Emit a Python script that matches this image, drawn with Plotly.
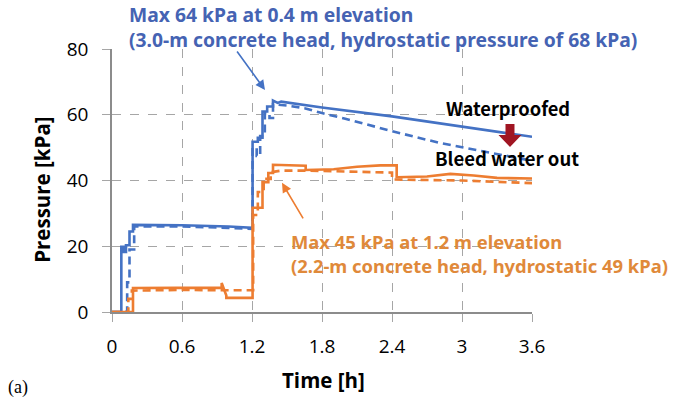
import plotly.graph_objects as go

# ---- data ----
blue_solid_t = [0, 0.08, 0.08, 0.10, 0.10, 0.12, 0.12, 0.15, 0.15, 0.18, 0.18, 0.6, 1.0, 1.205,
                1.205, 1.25, 1.25, 1.29, 1.29, 1.33, 1.33, 1.38, 1.38, 1.42, 1.45, 1.8, 2.4, 3.0, 3.6]
blue_solid_p = [0, 0, 19.8, 19.8, 18.3, 18.3, 20.3, 20.3, 24.5, 24.5, 26.5, 26.4, 26.0, 25.6,
                51.8, 51.8, 53.0, 53.0, 61.0, 61.0, 62.5, 62.5, 64.3, 63.6, 64.0, 62.2, 59.5, 56.5, 53.3]

blue_dash_t = [0, 0.13, 0.13, 0.15, 0.15, 0.19, 0.19, 0.6, 1.0, 1.205, 1.205, 1.24, 1.24, 1.27,
               1.27, 1.31, 1.31, 1.35, 1.35, 1.38, 1.38, 1.5, 1.65, 1.8, 2.0, 2.4, 2.8, 3.2, 3.6]
blue_dash_p = [0, 0, 9, 9, 19, 19, 26.0, 26.0, 25.6, 25.3,
               50.0, 50.0, 47.5, 47.5, 53.5, 53.5, 60.5, 60.5, 59.0, 59.0, 63.2, 62.8, 62.0, 60.5, 58.8, 55.0, 51.5, 48.7, 46.0]

orange_solid_t = [0, 0.18, 0.18, 0.6, 0.94, 0.94, 0.98, 0.98, 1.205, 1.205, 1.29, 1.29, 1.34, 1.34,
                  1.38, 1.38, 1.5, 1.66, 1.66, 1.9, 2.1, 2.3, 2.44, 2.44, 2.7, 2.9, 3.1, 3.3, 3.6]
orange_solid_p = [0, 0, 7.3, 7.4, 7.4, 8.8, 5.0, 4.3, 4.3, 31.7, 31.7, 39.5, 39.5, 42.3,
                  42.3, 44.8, 44.6, 44.5, 43.2, 43.4, 44.2, 44.6, 44.6, 41.0, 41.2, 42.0, 41.5, 40.8, 40.6]

orange_dash_t = [0, 0.14, 0.14, 0.17, 0.17, 0.6, 1.0, 1.21, 1.21, 1.25, 1.25, 1.3, 1.3, 1.36,
                 1.36, 1.45, 1.7, 2.0, 2.4, 2.4, 2.7, 3.0, 3.3, 3.6]
orange_dash_p = [0, 0, 4.0, 4.0, 6.5, 6.7, 6.6, 6.6, 29.5, 29.5, 36.5, 36.5, 40.5, 40.5,
                 42.5, 43.0, 43.0, 42.7, 42.4, 40.3, 40.2, 40.0, 39.6, 39.2]

x_ticks = [0, 0.6, 1.2, 1.8, 2.4, 3.0, 3.6]
x_tick_labels = ["0", "0.6", "1.2", "1.8", "2.4", "3", "3.6"]
y_ticks = [0, 20, 40, 60, 80]

BLUE = "#4472C4"
ORANGE = "#ED7D31"
BLUE_TXT = "#4563B3"
ORANGE_TXT = "#E0893A"
GRID = "#A6A6A6"

# ---- layout geometry (pixels) ----
W, H = 689, 399
L, R, T, B = 112, 532, 49, 312.3


def px(x):
    return (x - L) / (R - L)


def py(y):
    return (B - y) / (B - T)


fig = go.Figure()
fig.add_trace(go.Scatter(x=blue_solid_t, y=blue_solid_p, mode="lines",
                         line=dict(color=BLUE, width=2.6), showlegend=False))
fig.add_trace(go.Scatter(x=blue_dash_t, y=blue_dash_p, mode="lines",
                         line=dict(color=BLUE, width=2.6, dash="8px,5px"), showlegend=False))
fig.add_trace(go.Scatter(x=orange_solid_t, y=orange_solid_p, mode="lines",
                         line=dict(color=ORANGE, width=2.6), showlegend=False))
fig.add_trace(go.Scatter(x=orange_dash_t, y=orange_dash_p, mode="lines",
                         line=dict(color=ORANGE, width=2.6, dash="8px,5px"), showlegend=False))

ann_font = "Noto Sans CJK KR"
tick_font = dict(family="Open Sans", size=19, color="#000000")

annotations = [
    dict(text="<b>Max 64 kPa at 0.4 m elevation<br>"
              "(3.0-m concrete head, hydrostatic pressure of 68 kPa)</b>",
         x=px(127), y=py(26.5), align="left",
         font=dict(family="Noto Sans", size=19.3, color=BLUE_TXT)),
    dict(text="<b>Max 45 kPa at 1.2 m elevation<br>"
              "(2.2-m concrete head, hydrostatic 49 kPa)</b>",
         x=px(289), y=py(253.5), align="left",
         font=dict(family="Noto Sans", size=18.4, color=ORANGE_TXT)),
]
for a in annotations:
    a.update(xref="paper", yref="paper", xanchor="left", yanchor="middle", showarrow=False)

annotations += [
    dict(text="<b>Waterproofed</b>", x=px(508), y=py(108), xref="paper", yref="paper",
         xanchor="center", yanchor="middle", showarrow=False,
         font=dict(family=ann_font, size=18.3, color="#000000")),
    dict(text="<b>Bleed water out</b>", x=px(507), y=py(158), xref="paper", yref="paper",
         xanchor="center", yanchor="middle", showarrow=False,
         font=dict(family=ann_font, size=18.5, color="#000000")),
    dict(text="<b>Pressure [kPa]</b>", x=px(42), y=py(190), xref="paper", yref="paper",
         xanchor="center", yanchor="middle", showarrow=False, textangle=-90,
         font=dict(family="Open Sans", size=20.5, color="#000000")),
    dict(text="<b>Time [h]</b>", x=px(323), y=py(380), xref="paper", yref="paper",
         xanchor="center", yanchor="middle", showarrow=False,
         font=dict(family="Open Sans", size=20.5, color="#000000")),
    dict(text="(a)", x=px(18), y=py(388), xref="paper", yref="paper",
         xanchor="center", yanchor="middle", showarrow=False,
         font=dict(family="Liberation Serif", size=18, color="#000000")),
    # pointer arrows
    dict(text="", x=px(265), y=py(90), xref="paper", yref="paper", showarrow=True,
         ax=236 - 265, ay=50 - 90, arrowhead=2, arrowsize=1.2, arrowwidth=1.6, arrowcolor=BLUE),
    dict(text="", x=px(282), y=py(183), xref="paper", yref="paper", showarrow=True,
         ax=304 - 282, ay=220 - 183, arrowhead=2, arrowsize=1.2, arrowwidth=1.6, arrowcolor=ORANGE),
]

# dark-red block arrow
cx = 510
shaft, head = 4.5, 11.5
ytop, ymid, ytip = 124, 135, 147
pts = [(cx - shaft, ytop), (cx + shaft, ytop), (cx + shaft, ymid), (cx + head, ymid),
       (cx, ytip), (cx - head, ymid), (cx - shaft, ymid)]
path = "M " + " L ".join(f"{px(x):.4f},{py(y):.4f}" for x, y in pts) + " Z"

fig.update_layout(
    width=W, height=H,
    margin=dict(l=L, r=W - R, t=T, b=H - B),
    paper_bgcolor="white", plot_bgcolor="white",
    annotations=annotations,
    shapes=[dict(type="path", path=path, xref="paper", yref="paper",
                 fillcolor="#A01522", line=dict(width=0))],
    xaxis=dict(range=[0, 3.6], tickvals=x_ticks, ticktext=x_tick_labels,
               showgrid=True, gridcolor=GRID, griddash="dash", gridwidth=1,
               showline=True, linecolor="#8C8C8C", linewidth=1.5,
               ticks="outside", ticklen=8, tickcolor=GRID, tickfont=tick_font,
               ticklabelstandoff=8, zeroline=False, fixedrange=True),
    yaxis=dict(range=[0, 80], tickvals=y_ticks,
               showgrid=True, gridcolor=GRID, griddash="dash", gridwidth=1,
               showline=True, linecolor="#8C8C8C", linewidth=1.5,
               ticks="outside", ticklen=8, tickcolor=GRID, tickfont=tick_font,
               ticklabelstandoff=10, zeroline=False, fixedrange=True),
)

fig.write_html("out.html")
